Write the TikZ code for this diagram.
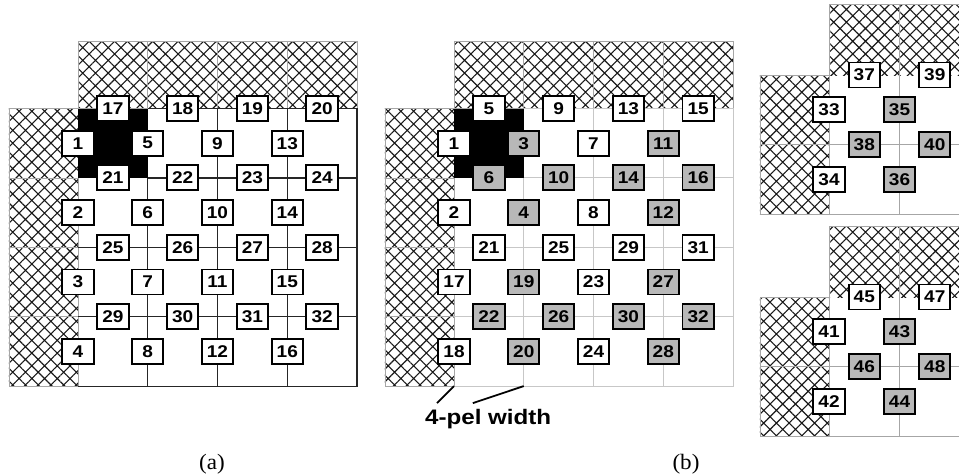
\documentclass[tikz,border=0pt]{standalone}
\usepackage{fontspec}
\newfontfamily\labfont{Liberation Sans}
\newfontfamily\capfont{Liberation Serif}
\usetikzlibrary{patterns.meta}
\colorlet{boxgray}{black!28}
\tikzset{
  lbl/.style={draw=black, line width=1.9pt, fill=#1, minimum width=28pt, minimum height=25pt,
    inner sep=0pt, xscale=1.12, transform shape,
    font=\labfont\bfseries\fontsize{17}{17}\selectfont},
  lbl/.default=white,
  hatch/.style={pattern={Hatch[angle=45,distance=9pt,line width=1.1pt]}, pattern color=black!90},
  hatchline/.style={draw=black!35, line width=0.7pt},
  gridA/.style={draw=black!85, line width=1.2pt},
  gridB/.style={draw=black!22, line width=1pt},
  gridC/.style={draw=black!35, line width=1pt},
  pointer/.style={draw=black, line width=1.8pt},
  captxt/.style={font=\capfont\fontsize{22}{22}\selectfont, xscale=1.05, transform shape, anchor=base, inner sep=0pt},
}
\begin{document}
\begin{tikzpicture}[x=1pt,y=-1pt]
\useasboundingbox (0,0) rectangle (959,474);

% ---------------- panel (a) ----------------
\begin{scope}[shift={(78,108.5)}, x=69.75pt, y=-69.4pt]
  \fill[hatch] (0,-0.97) rectangle (4,0);
  \fill[hatch] (-0.99,0) rectangle (0,4);
  \draw[hatchline] (0,-0.97) rectangle (4,0) (1,-0.97)--(1,0) (2,-0.97)--(2,0) (3,-0.97)--(3,0);
  \draw[hatchline] (-0.99,0) rectangle (0,4) (-0.99,1)--(0,1) (-0.99,2)--(0,2) (-0.99,3)--(0,3);
  \fill[black] (0,0) rectangle (1,1);
  \draw[gridA] (1,0)--(4,0)--(4,4)--(0,4)
    (1,1)--(1,4) (2,0)--(2,4) (3,0)--(3,4)
    (1,1)--(4,1) (0,2)--(4,2) (0,3)--(4,3);
  \foreach \i in {0,...,3}
    \foreach \r in {0,...,3} {
      \pgfmathtruncatemacro\n{4*\i+\r+1}
      \node[lbl] (a\n) at (\i,\r+0.5) {\n};
    }
  \foreach \j in {0,...,3}
    \foreach \c in {0,...,3} {
      \pgfmathtruncatemacro\n{17+4*\j+\c}
      \node[lbl] (a\n) at (\c+0.5,\j) {\n};
    }
\end{scope}

% ---------------- panel (b) ----------------
\begin{scope}[shift={(454,108.5)}, x=69.75pt, y=-69.4pt]
  \fill[hatch] (0,-0.97) rectangle (4,0);
  \fill[hatch] (-0.99,0) rectangle (0,4);
  \draw[hatchline] (0,-0.97) rectangle (4,0) (1,-0.97)--(1,0) (2,-0.97)--(2,0) (3,-0.97)--(3,0);
  \draw[hatchline] (-0.99,0) rectangle (0,4) (-0.99,1)--(0,1) (-0.99,2)--(0,2) (-0.99,3)--(0,3);
  \fill[black] (0,0) rectangle (1,1);
  \draw[gridB] (1,0)--(4,0)--(4,4)--(0,4)
    (1,1)--(1,4) (2,0)--(2,4) (3,0)--(3,4)
    (1,1)--(4,1) (0,2)--(4,2) (0,3)--(4,3);
  \foreach \i/\la/\lb/\lc/\ld/\fc in {0/1/2/17/18/white, 1/3/4/19/20/boxgray,
                                    2/7/8/23/24/white, 3/11/12/27/28/boxgray} {
    \node[lbl=\fc] (b\la) at (\i,0.5) {\la};
    \node[lbl=\fc] (b\lb) at (\i,1.5) {\lb};
    \node[lbl=\fc] (b\lc) at (\i,2.5) {\lc};
    \node[lbl=\fc] (b\ld) at (\i,3.5) {\ld};
  }
  \foreach \j/\la/\lb/\lc/\ld/\fc in {0/5/9/13/15/white, 1/6/10/14/16/boxgray,
                                    2/21/25/29/31/white, 3/22/26/30/32/boxgray} {
    \node[lbl=\fc] (b\la) at (0.5,\j) {\la};
    \node[lbl=\fc] (b\lb) at (1.5,\j) {\lb};
    \node[lbl=\fc] (b\lc) at (2.5,\j) {\lc};
    \node[lbl=\fc] (b\ld) at (3.5,\j) {\ld};
  }
  \coordinate (pwa) at (0,4);
  \coordinate (pwb) at (1,4);
  \coordinate (pwl) at (-0.245,4.245);
  \coordinate (pwr) at (0.27,4.245);
  \draw[pointer] (pwa) -- (pwl);
  \draw[pointer] (pwb) -- (pwr);
  \node[font=\labfont\bfseries\fontsize{21}{21}\selectfont, xscale=1.15, transform shape,
        anchor=base, inner sep=0pt] (pw) at (0.49,4.56) {4-pel width};
\end{scope}

% ---------------- right panels ----------------
\foreach \py/\na/\nb/\nc/\nd/\ne/\nf/\ng/\nh in {75/33/34/35/36/37/39/38/40, 297/41/42/43/44/45/47/46/48} {
  \begin{scope}[shift={(829,\py)}, x=70.5pt, y=-69.5pt]
    \fill[hatch] (0,-1.01) rectangle (1.845,0);
    \fill[hatch] (-0.98,0) rectangle (0,2);
    \draw[hatchline] (0,-1.01) -- (1.845,-1.01) (0,-1.01)--(0,0) (1,-1.01)--(1,0);
    \draw[hatchline] (-0.98,0) rectangle (0,2) (-0.98,1)--(0,1);
    \draw[gridC] (1,0)--(1,2) (0,1)--(1.845,1) (0,2)--(1.845,2);
    \node[lbl] (c\na) at (0,0.5) {\na};
    \node[lbl] (c\nb) at (0,1.5) {\nb};
    \node[lbl=boxgray] (c\nc) at (1,0.5) {\nc};
    \node[lbl=boxgray] (c\nd) at (1,1.5) {\nd};
    \node[lbl] (c\ne) at (0.5,0) {\ne};
    \node[lbl] (c\nf) at (1.5,0) {\nf};
    \node[lbl=boxgray] (c\ng) at (0.5,1) {\ng};
    \node[lbl=boxgray] (c\nh) at (1.5,1) {\nh};
  \end{scope}
}

% ---------------- captions ----------------
\node[captxt] (capa) at (212,469) {(a)};
\node[captxt] (capb) at (686,469) {(b)};
\end{tikzpicture}
\end{document}
